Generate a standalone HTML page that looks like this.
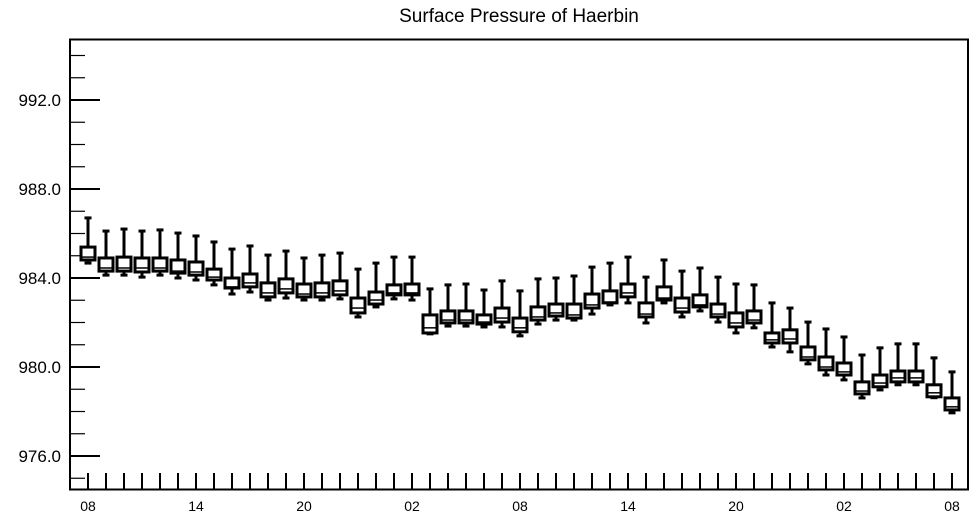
<!DOCTYPE html>
<html><head><meta charset="utf-8"><style>
html,body{margin:0;padding:0;background:#fff;}
svg{display:block;font-family:"Liberation Sans",Arial,sans-serif;}
</style></head><body>
<svg id="chart" width="975" height="518" viewBox="0 0 975 518" xmlns="http://www.w3.org/2000/svg">
<text x="519" y="22" font-size="19" text-anchor="middle" fill="#000">Surface Pressure of Haerbin</text>
<g id="marks"></g>
<rect x="70" y="39.5" width="898" height="450" fill="none" stroke="#000" stroke-width="2"/>
</svg>
<script>
const xLabels = ["08","14","20","02","08","14","20","02","08"];
const yTicks = [976, 980, 984, 988, 992];
const hiVals = [986.70,986.11,986.20,986.11,986.16,986.02,985.89,985.62,985.30,985.44,985.03,985.21,984.90,985.03,985.12,984.40,984.67,984.94,984.94,983.51,983.69,983.73,983.46,983.87,983.42,983.96,984.00,984.09,984.49,984.67,984.94,984.04,984.81,984.31,984.45,984.04,983.73,983.69,982.88,982.65,982.02,981.71,981.35,980.54,980.86,981.04,981.04,980.41,979.78];
const q3Vals = [985.39,984.90,984.94,984.90,984.90,984.81,984.72,984.40,984.00,984.18,983.78,983.96,983.73,983.78,983.87,983.10,983.37,983.69,983.73,982.34,982.52,982.52,982.34,982.65,982.20,982.70,982.83,982.83,983.28,983.42,983.73,982.88,983.60,983.10,983.24,982.83,982.43,982.52,981.53,981.67,980.90,980.45,980.18,979.33,979.64,979.82,979.82,979.20,978.61];
const medVals = [984.94,984.45,984.45,984.45,984.45,984.31,984.27,984.04,983.60,983.78,983.33,983.51,983.28,983.33,983.42,982.65,983.01,983.33,983.33,981.76,982.11,982.11,982.02,982.20,981.76,982.25,982.43,982.34,982.79,982.92,983.33,982.38,983.10,982.65,982.79,982.38,981.98,982.11,981.22,981.26,980.45,980.00,979.78,978.92,979.28,979.51,979.51,978.84,978.21];
const q1Vals = [984.81,984.31,984.31,984.27,984.31,984.22,984.13,983.91,983.55,983.60,983.15,983.33,983.15,983.15,983.24,982.43,982.83,983.24,983.24,981.53,981.98,981.98,981.93,982.02,981.58,982.11,982.29,982.20,982.65,982.88,983.15,982.25,983.01,982.47,982.70,982.25,981.80,981.98,981.08,981.08,980.32,979.87,979.64,978.79,979.11,979.33,979.33,978.66,978.07];
const loVals = [984.67,984.13,984.13,984.04,984.13,984.00,983.91,983.69,983.28,983.37,983.01,983.10,983.01,983.01,983.06,982.25,982.70,983.06,983.01,981.49,981.84,981.84,981.80,981.80,981.40,981.93,982.11,982.11,982.38,982.79,982.88,981.98,982.88,982.25,982.52,982.02,981.53,981.76,980.90,980.68,980.14,979.64,979.42,978.61,978.97,979.20,979.20,978.62,977.94];

const NS = "http://www.w3.org/2000/svg";
const g = document.getElementById("marks");
function yS(v){ return 278 - (v - 984) * 22.25; }
function xS(i){ return 88 + i * 18; }
function mk(tag, attrs){ const e = document.createElementNS(NS, tag); for (const k in attrs) e.setAttribute(k, attrs[k]); g.appendChild(e); return e; }

// y ticks (minor every 1 unit)
for (let v = 975; v <= 994; v++) {
  const major = yTicks.includes(v);
  const t = mk("line", {x1:70, x2: major ? 100 : 85, y1: yS(v), y2: yS(v), stroke:"#000", "stroke-width": major ? 2 : 1.2});
  
  
}
yTicks.forEach(v => {
  const t = mk("text", {x:61, y: yS(v) + 6, "font-size":17, "text-anchor":"end", fill:"#000"});
  t.textContent = v.toFixed(1);
  
  
});
// x ticks every hour
for (let i = 0; i < hiVals.length; i++) {
  const t = mk("line", {x1:xS(i), x2:xS(i), y1:473, y2:489.5, stroke:"#000", "stroke-width":2});
  
  
}
xLabels.forEach((s, j) => {
  const t = mk("text", {x: xS(j * 6), y: 511, "font-size":14, "text-anchor":"middle", fill:"#000"});
  t.textContent = s;
  
  
});
// boxes
for (let i = 0; i < hiVals.length; i++) {
  const x = xS(i);
  const w1 = mk("line", {x1:x, x2:x, y1:yS(hiVals[i]), y2:yS(q3Vals[i]), stroke:"#000", "stroke-width":3});
  
  
  const c1 = mk("line", {x1:x-3.5, x2:x+3.5, y1:yS(hiVals[i]), y2:yS(hiVals[i]), stroke:"#000", "stroke-width":3});
  
  
  const w2 = mk("line", {x1:x, x2:x, y1:yS(q1Vals[i]), y2:yS(loVals[i]), stroke:"#000", "stroke-width":3});
  
  
  const c2 = mk("line", {x1:x-3.5, x2:x+3.5, y1:yS(loVals[i]), y2:yS(loVals[i]), stroke:"#000", "stroke-width":3});
  
  
  const b = mk("rect", {x:x-7, y:yS(q3Vals[i]), width:14, height: Math.max(2, yS(q1Vals[i]) - yS(q3Vals[i])), fill:"#fff", stroke:"#000", "stroke-width":3});
  
  
  const m = mk("line", {x1:x-7, x2:x+7, y1:yS(medVals[i]), y2:yS(medVals[i]), stroke:"#000", "stroke-width":1.5});
  
  
}
</script>
</body></html>
